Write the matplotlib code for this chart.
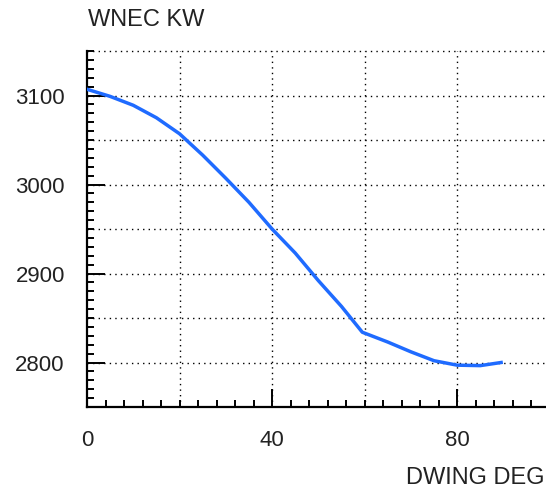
import matplotlib
matplotlib.use("Agg")
import matplotlib.pyplot as plt
from matplotlib.ticker import MultipleLocator, FixedLocator

plt.rcParams["font.family"] = ["Liberation Sans", "DejaVu Sans"]

# curve
dwing = [0, 5, 10, 15, 20, 25, 30, 35, 40, 45, 50, 55, 59.5, 65, 70, 75, 80, 85, 89.5]
wnec = [3107, 3099, 3089, 3075, 3057, 3033, 3007, 2980, 2950, 2923, 2892, 2863,
        2834, 2823, 2812, 2802, 2797, 2796.5, 2800]

x_labels = [0, 40, 80]
y_labels = [2800, 2900, 3000, 3100]
x_grid = [20, 40, 60, 80]
y_grid = [2800, 2850, 2900, 2950, 3000, 3050, 3100, 3150]

fig = plt.figure(figsize=(5.46, 5.02), dpi=100)
ax = fig.add_axes([87 / 546, 1 - 408 / 502, 1 - 87 / 546, (408 - 52) / 502])

ax.set_xlim(0, 99.2)
ax.set_ylim(2750, 3150)

for gx in x_grid:
    ax.axvline(gx, color="black", lw=1.0, ls=(0, (1, 3.0)), zorder=1)
for gy in y_grid:
    ax.axhline(gy, color="black", lw=1.0, ls=(0, (1, 3.0)), zorder=1, clip_on=False)

ax.plot(dwing, wnec, color="#1f6bff", lw=2.5, zorder=3)

ax.xaxis.set_major_locator(FixedLocator(x_labels))
ax.xaxis.set_minor_locator(MultipleLocator(4))
ax.yaxis.set_major_locator(FixedLocator(y_labels))
ax.yaxis.set_minor_locator(MultipleLocator(10))

ax.tick_params(which="major", direction="in", length=13, width=1.4,
               labelsize=16, labelcolor="#222222", pad=16)
ax.tick_params(which="minor", direction="in", length=5, width=1.4)
ax.tick_params(axis="x", pad=16)

for side in ["top", "right"]:
    ax.spines[side].set_visible(False)
for side in ["left", "bottom"]:
    ax.spines[side].set_linewidth(1.6)

fig.text(88 / 546, 1 - 20 / 502, "WNEC KW", fontsize=17, color="#222222",
         ha="left", va="center")
fig.text(545 / 546, 1 - 478 / 502, "DWING DEG", fontsize=17, color="#222222",
         ha="right", va="center")

fig.savefig("out.png", dpi=100)
